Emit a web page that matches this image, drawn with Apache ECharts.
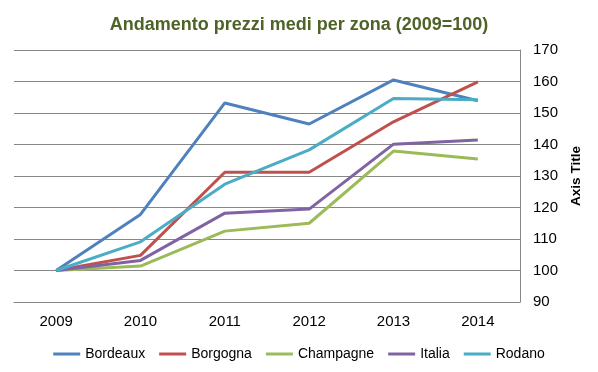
<!DOCTYPE html>
<html>
<head>
<meta charset="utf-8">
<script src="https://cdn.jsdelivr.net/npm/echarts@6/dist/echarts.min.js"></script>
<style>
html,body{margin:0;padding:0;background:#fff;}
#chart{width:598px;height:372px;}
</style>
</head>
<body>
<div id="chart"></div>
<script>
const categories = ['2009', '2010', '2011', '2012', '2013', '2014'];
const bordeaux  = [100, 117.8, 153.2, 146.5, 160.5, 153.9];
const borgogna  = [100, 104.8, 131.2, 131.2, 147.2, 159.9];
const champagne = [100, 101.4, 112.5, 115.0, 137.9, 135.4];
const italia    = [100, 103.2, 118.2, 119.5, 140.1, 141.4];
const rodano    = [100, 109.1, 127.4, 138.3, 154.6, 154.2];
const seriesNames = ['Bordeaux', 'Borgogna', 'Champagne', 'Italia', 'Rodano'];
const seriesData = [bordeaux, borgogna, champagne, italia, rodano];
const colors = ['#4F81BD', '#C0504D', '#9BBB59', '#8064A2', '#4BACC6'];

const chart = echarts.init(document.getElementById('chart'), null, {renderer: 'canvas'});
const font = "'Liberation Sans', Arial, sans-serif";
chart.setOption({
  animation: false,
  backgroundColor: '#ffffff',
  color: colors,
  title: {
    text: 'Andamento prezzi medi per zona (2009=100)',
    left: 'center',
    top: 11,
    textStyle: {
      fontFamily: font,
      fontWeight: 'bold',
      fontSize: 18,
      color: '#4F6228'
    }
  },
  legend: {
    data: seriesNames,
    left: 'center',
    top: 342,
    icon: 'rect',
    itemWidth: 27,
    itemHeight: 3,
    itemGap: 14,
    textStyle: {fontFamily: font, fontSize: 14, color: '#000'}
  },
  grid: {left: 14, right: 78, top: 50, bottom: 70},
  xAxis: {
    type: 'category',
    data: categories,
    boundaryGap: true,
    axisLine: {show: true, lineStyle: {color: '#878787', width: 1}},
    axisTick: {show: false},
    axisLabel: {fontFamily: font, fontSize: 15, color: '#000', margin: 12},
    splitLine: {show: false}
  },
  yAxis: {
    type: 'value',
    position: 'right',
    min: 90,
    max: 170,
    interval: 10,
    name: 'Axis Title',
    nameLocation: 'middle',
    nameRotate: 90,
    nameGap: 43,
    nameTextStyle: {fontFamily: font, fontWeight: 'bold', fontSize: 13.5, color: '#000'},
    axisLine: {show: true, lineStyle: {color: '#878787', width: 1}},
    axisTick: {show: false},
    axisLabel: {fontFamily: font, fontSize: 15, color: '#000', margin: 13},
    splitLine: {show: true, lineStyle: {color: '#878787', width: 1}}
  },
  series: seriesNames.map((n, i) => ({
    name: n,
    type: 'line',
    data: seriesData[i],
    showSymbol: false,
    symbol: 'none',
    lineStyle: {width: 3, color: colors[i]},
    itemStyle: {color: colors[i]}
  }))
});
</script>
</body>
</html>
